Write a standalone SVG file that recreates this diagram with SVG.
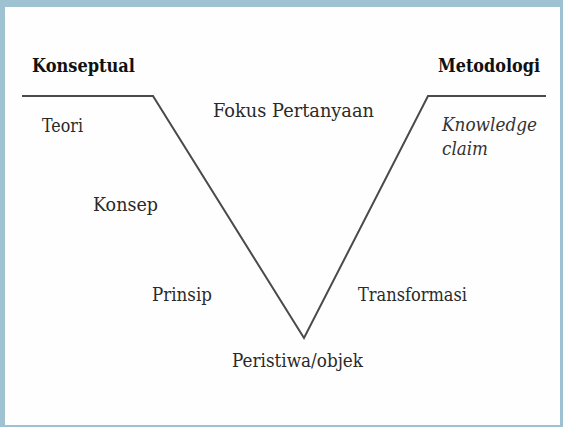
<svg xmlns="http://www.w3.org/2000/svg" width="563" height="427" viewBox="0 0 563 427">
<style>
text{font-family:'DejaVu Serif','Liberation Serif',serif;font-size:18px;fill:#2a2a2a}
.b{font-weight:bold;font-size:18px;fill:#111}
.i{font-style:italic;fill:#333}
.v{fill:none;stroke:#4a4a4a;stroke-width:2;stroke-linejoin:miter}
</style>
<rect x="0" y="0" width="563" height="427" fill="#9fc2d2"/>
<rect x="5" y="7" width="555" height="418" fill="#fefefe"/>
<g id="connectors">
<polyline class="v" points="22,96 153,96 304,338 428,96 546,96"/>
</g>
<g id="konseptual"><text class="b" x="32" y="72" textLength="103" lengthAdjust="spacingAndGlyphs">Konseptual</text></g>
<g id="metodologi"><text class="b" x="438" y="72" textLength="102" lengthAdjust="spacingAndGlyphs">Metodologi</text></g>
<g id="fokus"><text x="213" y="117" textLength="161" lengthAdjust="spacingAndGlyphs">Fokus Pertanyaan</text></g>
<g id="teori"><text x="42" y="132" textLength="41" lengthAdjust="spacingAndGlyphs">Teori</text></g>
<g id="knowledge"><text class="i" x="442" y="131" textLength="95" lengthAdjust="spacingAndGlyphs">Knowledge</text><text class="i" x="442" y="155" textLength="46" lengthAdjust="spacingAndGlyphs">claim</text></g>
<g id="konsep"><text x="93" y="211" textLength="65" lengthAdjust="spacingAndGlyphs">Konsep</text></g>
<g id="prinsip"><text x="152" y="301" textLength="60" lengthAdjust="spacingAndGlyphs">Prinsip</text></g>
<g id="transformasi"><text x="358" y="301" textLength="109" lengthAdjust="spacingAndGlyphs">Transformasi</text></g>
<g id="peristiwa"><text x="232" y="367" textLength="131" lengthAdjust="spacingAndGlyphs">Peristiwa/objek</text></g>
</svg>
